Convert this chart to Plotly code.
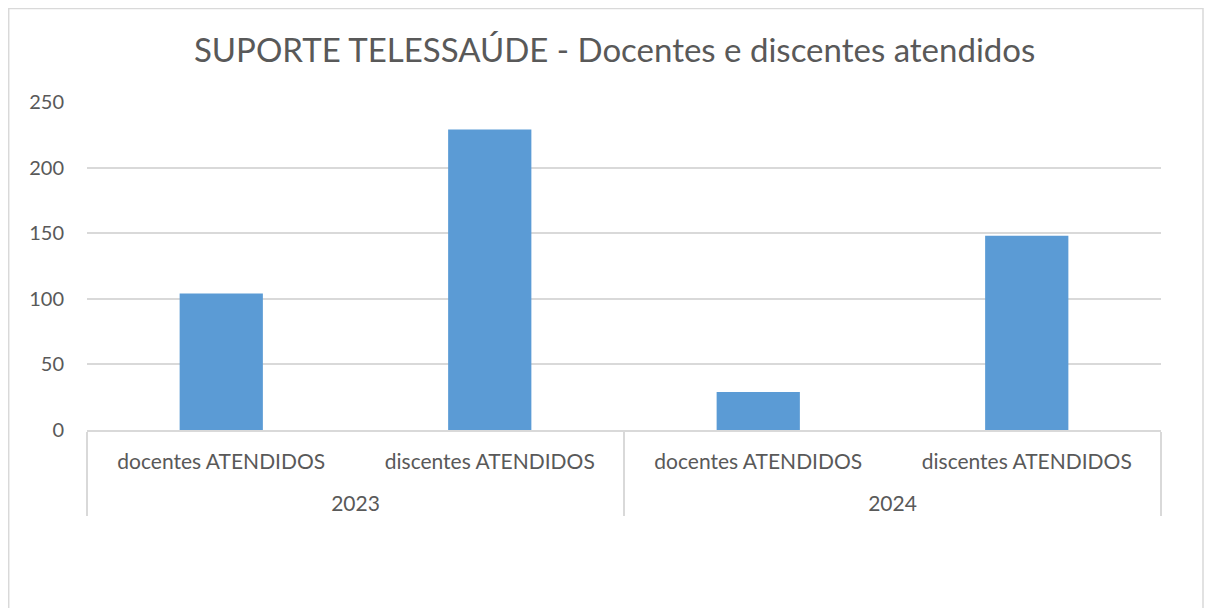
import plotly.graph_objects as go

# dados
anos = ["2023", "2023", "2024", "2024"]
grupos = ["docentes ATENDIDOS", "discentes ATENDIDOS", "docentes ATENDIDOS", "discentes ATENDIDOS"]
atendidos = [104, 229, 29, 148]

cinza_txt = "#595959"
cinza_linha = "#d9d9d9"
fonte = "Lato, Open Sans, sans-serif"

fig = go.Figure()

fig.add_trace(go.Bar(
    x=[["<br>" + a for a in anos], grupos],
    y=atendidos,
    marker_color="#5B9BD5",
    marker_line_width=0,
    showlegend=False,
))

# borda externa da área do gráfico (estilo Excel)
fig.add_shape(
    type="rect", xref="paper", yref="paper",
    x0=-0.0729, x1=1.0391, y0=-0.56, y1=1.2849,
    line=dict(color=cinza_linha, width=1.5),
    layer="below",
)

fig.update_layout(
    width=1206,
    height=600,
    paper_bgcolor="white",
    plot_bgcolor="white",
    margin=dict(l=79, r=53, t=94, b=178),
    bargap=0.69,
    font=dict(family=fonte, color=cinza_txt, size=21),
    title=dict(
        text="SUPORTE TELESSAÚDE - Docentes e discentes atendidos",
        x=0.503, xanchor="center",
        y=1 - 42 / 600, yanchor="middle",
        font=dict(size=33, color=cinza_txt, family=fonte),
    ),
    xaxis=dict(
        type="multicategory",
        showline=True,
        linecolor=cinza_linha,
        linewidth=1.5,
        showdividers=True,
        dividercolor=cinza_linha,
        dividerwidth=1.5,
        tickfont=dict(size=21, color=cinza_txt),
        ticks="",
        ticklabelstandoff=12,
        showgrid=False,
    ),
    yaxis=dict(
        range=[0, 250],
        dtick=50,
        showgrid=True,
        gridcolor=cinza_linha,
        gridwidth=1.5,
        zeroline=False,
        showline=False,
        ticks="",
        ticklabelstandoff=22,
        tickfont=dict(size=20, color=cinza_txt),
    ),
)

fig.write_html("out.html")
